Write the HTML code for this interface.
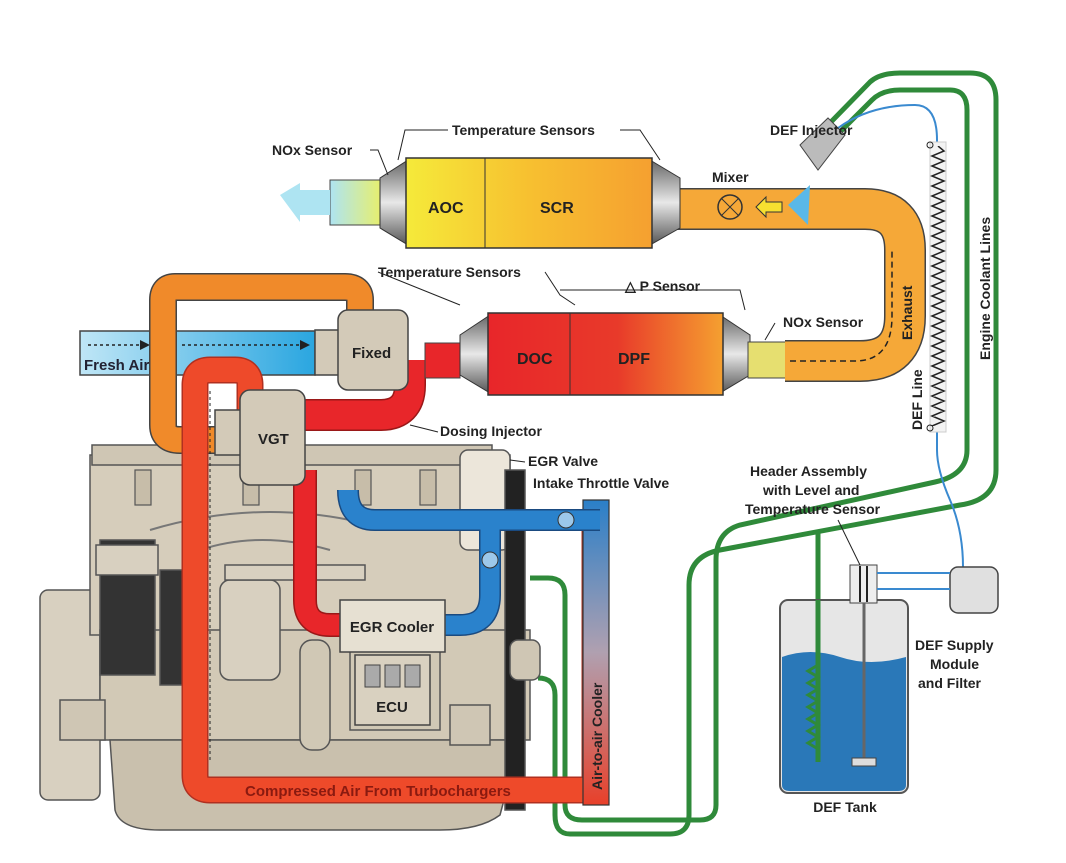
<!DOCTYPE html>
<html><head><meta charset="utf-8"><style>
html,body{margin:0;padding:0;background:#fff;}
svg{display:block;font-family:"Liberation Sans",sans-serif;font-weight:bold;}
</style></head><body>
<svg width="1066" height="863" viewBox="0 0 1066 863" xmlns="http://www.w3.org/2000/svg">
<defs>
<linearGradient id="scr" x1="0" x2="1" y1="0" y2="0"><stop offset="0" stop-color="#f5ea3a"/><stop offset="0.5" stop-color="#f7c030"/><stop offset="1" stop-color="#f5a030"/></linearGradient>
<linearGradient id="dpf" x1="0" x2="1"><stop offset="0" stop-color="#e8262a"/><stop offset="0.55" stop-color="#e83a2a"/><stop offset="1" stop-color="#f5a030"/></linearGradient>
<linearGradient id="tail" x1="0" x2="1"><stop offset="0" stop-color="#aee4f2"/><stop offset="1" stop-color="#e6ef70"/></linearGradient>
<linearGradient id="cone" x1="0" x2="0" y1="0" y2="1"><stop offset="0" stop-color="#666"/><stop offset="0.5" stop-color="#e8e8e8"/><stop offset="1" stop-color="#555"/></linearGradient>
<linearGradient id="cool" x1="0" x2="0" y1="0" y2="1"><stop offset="0" stop-color="#2a7fc8"/><stop offset="0.5" stop-color="#b0a0b0"/><stop offset="1" stop-color="#e8402a"/></linearGradient>
<linearGradient id="fresh" x1="0" x2="1"><stop offset="0" stop-color="#bfe6f6"/><stop offset="1" stop-color="#2aa6e0"/></linearGradient>
<clipPath id="cc"><rect x="925" y="146" width="30" height="280"/></clipPath>
</defs>

<!-- green coolant lines -->
<g fill="none" stroke="#2f8a3a" stroke-width="5">
<path d="M828 125 L870 82 Q880 73 900 73 L970 73 Q996 73 996 100 L996 470 Q996 500 960 505 L720 550 Q689 556 689 585 L689 815 Q689 834 670 834 L570 834 Q555 834 555 815 L555 695 Q555 678 538 678"/>
<path d="M840 132 L872 100 Q882 90 900 90 L950 90 Q967 90 967 110 L967 450 Q967 475 935 482 L740 525 Q716 532 716 560 L716 805 Q716 820 700 820 L582 820 Q565 820 565 805 L565 595 Q565 578 548 578 L530 578"/>
<path d="M818 530 L818 762"/>
</g>
<path d="M838 128 Q870 105 915 105 Q937 105 937 140 L937 450 Q937 470 950 500 Q963 530 963 567" fill="none" stroke="#3a8ad0" stroke-width="2"/>
<rect x="930" y="142" width="16" height="290" fill="#f3f3f3" stroke="#ccc"/>
<g clip-path="url(#cc)">
<path d="M938 146 l6 5 -12 5 12 5 -12 5 12 5 -12 5 12 5 -12 5 12 5 -12 5 12 5 -12 5 12 5 -12 5 12 5 -12 5 12 5 -12 5 12 5 -12 5 12 5 -12 5 12 5 -12 5 12 5 -12 5 12 5 -12 5 12 5 -12 5 12 5 -12 5 12 5 -12 5 12 5 -12 5 12 5 -12 5 12 5 -12 5 12 5 -12 5 12 5 -12 5 12 5 -12 5 12 5 -12 5 12 5 -12 5 12 5 -12 5 12 5 -12 5 12 5 -12 5 12 5 -12 5 12 5 -12 5 12 5 -12 5 12 5 -12 5 12 5 -12 5 12 5 -12 5 12 5 -12 5 12 5 -12 5 12 5 -12 5 12 5" fill="none" stroke="#222" stroke-width="1.5"/>
</g>
<circle cx="930" cy="145" r="3" fill="none" stroke="#222"/><circle cx="930" cy="428" r="3" fill="none" stroke="#222"/>

<!-- engine block -->
<g stroke="#555" stroke-width="1.5">
<rect x="40" y="590" width="60" height="210" rx="8" fill="#d8d0c0"/>
<rect x="90" y="455" width="420" height="180" fill="#d6cdbb"/>
<rect x="92" y="445" width="400" height="20" fill="#cfc6b4"/>
<rect x="100" y="630" width="430" height="110" fill="#d2c9b6"/>
<path d="M110 740 L520 740 L500 815 Q480 830 440 830 L160 830 Q120 830 115 810 Z" fill="#c9c0ad"/>
<rect x="100" y="540" width="55" height="135" fill="#333"/>
<rect x="96" y="545" width="62" height="30" fill="#d8d0c0"/>
<rect x="160" y="570" width="45" height="115" fill="#333"/>
<rect x="220" y="580" width="60" height="100" rx="10" fill="#d8d0c0"/>
<rect x="225" y="565" width="140" height="15" fill="#d8d0c0"/>
<rect x="350" y="650" width="90" height="80" fill="#d0c8b5"/>
<rect x="300" y="640" width="30" height="110" rx="12" fill="#d0c8b5"/>
<rect x="460" y="450" width="50" height="100" rx="8" fill="#ece6da"/>
<rect x="505" y="470" width="20" height="340" fill="#222"/>
<rect x="510" y="640" width="30" height="40" rx="8" fill="#cfc6b4"/>
<rect x="60" y="700" width="45" height="40" fill="#cfc6b4"/>
<rect x="450" y="705" width="40" height="40" fill="#cfc6b4"/>
</g>
<g fill="#c7bda9" stroke="#555" stroke-width="1.2">
<rect x="135" y="470" width="16" height="35"/><rect x="243" y="470" width="16" height="35"/><rect x="355" y="470" width="16" height="35"/><rect x="420" y="470" width="16" height="35"/>
</g>
<g stroke="#777" stroke-width="2" fill="none"><path d="M150 530 Q250 500 350 520 Q400 530 450 515"/><path d="M200 550 Q260 530 330 550"/></g>

<!-- ECU -->
<rect x="355" y="655" width="75" height="70" fill="#d9d1c0" stroke="#444" stroke-width="1.5"/>
<rect x="365" y="665" width="15" height="22" fill="#aaa" stroke="#444"/><rect x="385" y="665" width="15" height="22" fill="#aaa" stroke="#444"/><rect x="405" y="665" width="15" height="22" fill="#aaa" stroke="#444"/>
<text x="392" y="712" font-size="15" text-anchor="middle" fill="#222">ECU</text>

<!-- Fresh air -->
<rect x="80" y="331" width="235" height="44" fill="url(#fresh)" stroke="#444" stroke-width="1.5"/>
<text x="84" y="370" font-size="15" fill="#223">Fresh Air</text>
<path d="M88 345 L140 345 M182 345 L300 345" stroke="#222" stroke-dasharray="3 3" stroke-width="1.5"/>
<path d="M140 340 L150 345 L140 350Z M300 340 L310 345 L300 350Z" fill="#222"/>

<!-- orange loop -->
<path d="M360 325 L360 300 Q360 287 345 287 L175 287 Q163 287 163 300 L163 425 Q163 440 180 440 L215 440" fill="none" stroke="#444" stroke-width="28"/>
<path d="M360 325 L360 300 Q360 287 345 287 L175 287 Q163 287 163 300 L163 425 Q163 440 180 440 L215 440" fill="none" stroke="#f08a2a" stroke-width="25"/>
<!-- red compressed air -->
<path d="M250 420 L250 385 Q250 370 235 370 L210 370 Q195 370 195 385 L195 775 Q195 790 210 790 L595 790 L595 520" fill="none" stroke="#b03020" stroke-width="27"/>
<path d="M250 420 L250 385 Q250 370 235 370 L210 370 Q195 370 195 385 L195 775 Q195 790 210 790 L590 790" fill="none" stroke="#ee4a2a" stroke-width="24"/>
<rect x="583" y="500" width="26" height="305" fill="url(#cool)" stroke="#333" stroke-width="1.2"/>
<text transform="translate(602 790) rotate(-90)" font-size="14" fill="#222">Air-to-air Cooler</text>
<text x="245" y="796" font-size="15" fill="#8a1a10">Compressed Air From Turbochargers</text>
<path d="M210 760 L210 390" stroke="#222" stroke-dasharray="3 3" fill="none"/>
<!-- blue intake -->
<path d="M348 490 Q348 520 375 520 L600 520 M490 520 L490 595 Q490 625 460 625 L440 625" fill="none" stroke="#1a4a80" stroke-width="22"/>
<path d="M348 490 Q348 520 375 520 L600 520 M490 520 L490 595 Q490 625 460 625 L440 625" fill="none" stroke="#2a82cc" stroke-width="19"/>
<circle cx="566" cy="520" r="8" fill="#9cc8ea" stroke="#333"/><circle cx="490" cy="560" r="8" fill="#9cc8ea" stroke="#333"/>
<!-- red EGR -->
<path d="M305 470 L305 600 Q305 625 330 625 L345 625" fill="none" stroke="#9a1818" stroke-width="24"/>
<path d="M305 470 L305 600 Q305 625 330 625 L345 625" fill="none" stroke="#e8262a" stroke-width="21"/>
<path d="M300 415 L380 415 Q410 415 410 385 L410 360" fill="none" stroke="#9a1818" stroke-width="32"/>
<path d="M300 415 L380 415 Q410 415 410 385 L410 360" fill="none" stroke="#e8262a" stroke-width="29"/>
<rect x="340" y="600" width="105" height="52" fill="#e6e0d2" stroke="#444" stroke-width="1.5"/>
<text x="392" y="632" font-size="15" text-anchor="middle" fill="#222">EGR Cooler</text>

<!-- turbos -->
<g stroke="#444" stroke-width="1.5" fill="#d3cab8">
<rect x="315" y="330" width="30" height="45"/>
<rect x="338" y="310" width="70" height="80" rx="10"/>
<rect x="215" y="410" width="30" height="45"/>
<rect x="240" y="390" width="65" height="95" rx="10"/>
</g>
<text x="352" y="358" font-size="15" fill="#222">Fixed</text>
<text x="258" y="444" font-size="15" fill="#222">VGT</text>
<rect x="425" y="343" width="35" height="35" fill="#e8262a" stroke="#444"/>

<!-- DOC/DPF -->
<path d="M460 335 L490 315 L490 393 L460 375Z M720 315 L750 335 L750 375 L720 393Z" fill="url(#cone)" stroke="#333"/>
<rect x="488" y="313" width="235" height="82" fill="url(#dpf)" stroke="#333" stroke-width="1.5"/>
<line x1="570" y1="313" x2="570" y2="395" stroke="#333"/>
<text x="517" y="364" font-size="16" fill="#222">DOC</text>
<text x="618" y="364" font-size="16" fill="#222">DPF</text>
<rect x="748" y="342" width="40" height="36" fill="#e6df70" stroke="#444"/>
<!-- exhaust pipe -->
<path d="M785 361 L860 361 Q905 361 905 316 L905 250 Q905 209 865 209 L675 209" fill="none" stroke="#444" stroke-width="42"/>
<path d="M785 361 L860 361 Q905 361 905 316 L905 250 Q905 209 865 209 L675 209" fill="none" stroke="#f5a838" stroke-width="39"/>
<path d="M790 361 L855 361 Q892 361 892 316 L892 250" fill="none" stroke="#222" stroke-dasharray="6 4" stroke-width="1.5"/>
<text transform="translate(912 340) rotate(-90)" font-size="14" fill="#222">Exhaust</text>
<circle cx="730" cy="207" r="12" fill="#f5a838" stroke="#333" stroke-width="1.5"/>
<path d="M721 198 L739 216 M739 198 L721 216" stroke="#333"/>
<path d="M756 207 L766 197 L766 202 L782 202 L782 212 L766 212 L766 217Z" fill="#f7e030" stroke="#333"/>
<path d="M788 205 L810 185 L808 225Z" fill="#5ab8e8"/>
<path d="M800 145 L828 118 L845 135 L818 170 Z" fill="#bbb" stroke="#444"/>

<!-- SCR -->
<rect x="330" y="180" width="50" height="45" fill="url(#tail)" stroke="#444"/>
<path d="M280 195 L300 183 L300 190 L330 190 L330 215 L300 215 L300 222Z" fill="#aee4f2"/>
<path d="M380 178 L408 160 L408 245 L380 228Z M650 160 L680 178 L680 228 L650 245Z" fill="url(#cone)" stroke="#333"/>
<rect x="406" y="158" width="246" height="90" fill="url(#scr)" stroke="#333" stroke-width="1.5"/>
<line x1="485" y1="158" x2="485" y2="248" stroke="#333"/>
<text x="428" y="213" font-size="16" fill="#222">AOC</text>
<text x="540" y="213" font-size="16" fill="#222">SCR</text>

<!-- DEF tank -->
<rect x="780" y="600" width="128" height="193" rx="8" fill="#e6e6e6" stroke="#555" stroke-width="2"/>
<path d="M782 657 Q810 647 840 657 Q870 667 906 657 L906 785 Q906 791 898 791 L790 791 Q782 791 782 785Z" fill="#2a78b8"/>
<path d="M818 600 L818 762" stroke="#2f8a3a" stroke-width="5"/>
<path d="M818 665 l-10 6 10 6 -10 6 10 6 -10 6 10 6 -10 6 10 6 -10 6 10 6 -10 6 10 6 -10 6 10 6" fill="none" stroke="#2f8a3a" stroke-width="3"/>
<rect x="850" y="565" width="27" height="38" fill="#eee" stroke="#444"/>
<line x1="860" y1="566" x2="860" y2="602" stroke="#222" stroke-width="2"/><line x1="867" y1="566" x2="867" y2="602" stroke="#222" stroke-width="2"/>
<line x1="864" y1="603" x2="864" y2="760" stroke="#666" stroke-width="3"/>
<rect x="852" y="758" width="24" height="8" fill="#ddd" stroke="#444"/>
<rect x="950" y="567" width="48" height="46" rx="8" fill="#e0e0e0" stroke="#444" stroke-width="1.5"/>
<path d="M877 573 L950 573 M877 589 L950 589" stroke="#3a8ad0" stroke-width="2"/>
<text x="845" y="812" font-size="14" text-anchor="middle" fill="#222">DEF Tank</text>

<!-- labels -->
<g font-size="14" fill="#222">
<text x="272" y="155">NOx Sensor</text>
<text x="452" y="135">Temperature Sensors</text>
<text x="770" y="135">DEF Injector</text>
<text x="712" y="182">Mixer</text>
<text x="378" y="277">Temperature Sensors</text>
<text x="625" y="291">△ P Sensor</text>
<text x="783" y="327">NOx Sensor</text>
<text x="440" y="436">Dosing Injector</text>
<text x="528" y="466">EGR Valve</text>
<text x="533" y="488">Intake Throttle Valve</text>
<text x="750" y="476">Header Assembly</text>
<text x="763" y="495">with Level and</text>
<text x="745" y="514">Temperature Sensor</text>
<text x="915" y="650">DEF Supply</text>
<text x="930" y="669">Module</text>
<text x="918" y="688">and Filter</text>
<text transform="translate(922 430) rotate(-90)">DEF Line</text>
<text transform="translate(990 360) rotate(-90)">Engine Coolant Lines</text>
</g>
<g stroke="#222" fill="none" stroke-width="1">
<path d="M370 150 L378 150 L388 175 M448 130 L405 130 L398 160 M620 130 L640 130 L660 160 M545 272 L560 295 L575 305 M378 272 L460 305 M560 290 L740 290 L745 310 M775 323 L765 340 M438 432 L410 425 M525 462 L510 460"/>
<path d="M838 520 L860 565"/>
</g>
</svg>
</body></html>
